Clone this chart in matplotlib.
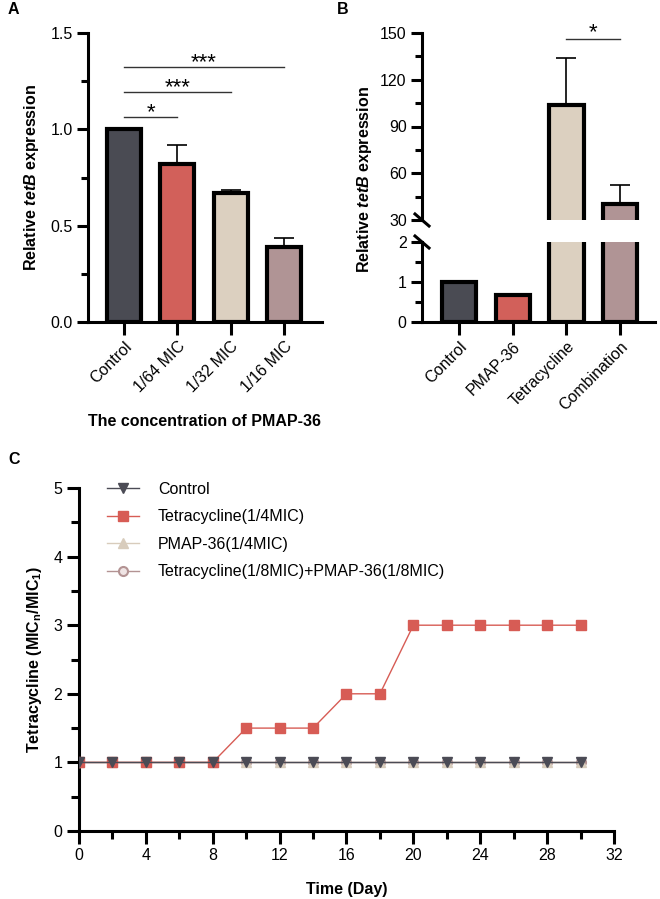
import matplotlib
matplotlib.use("Agg")
import matplotlib.pyplot as plt
import numpy as np
from matplotlib.ticker import MultipleLocator

plt.rcParams["font.family"] = ["Liberation Sans", "DejaVu Sans"]
plt.rcParams["font.size"] = 11.5
plt.rcParams["mathtext.fontset"] = "custom"
plt.rcParams["mathtext.it"] = "Liberation Sans:italic:bold"
plt.rcParams["mathtext.rm"] = "Liberation Sans:bold"
plt.rcParams["mathtext.bf"] = "Liberation Sans:bold"

# ── Panel A data ─────────────────────────────────────────────────────────────
a_groups = ["Control", "1/64 MIC", "1/32 MIC", "1/16 MIC"]
a_means = [1.0, 0.82, 0.67, 0.39]
a_err = [0.0, 0.10, 0.015, 0.045]
a_sig = [(0, 1, 1.065, "*"), (0, 2, 1.195, "***"), (0, 3, 1.325, "***")]

# ── Panel B data ─────────────────────────────────────────────────────────────
b_groups = ["Control", "PMAP-36", "Tetracycline", "Combination"]
b_means = [1.0, 0.67, 104.0, 40.0]
b_err = [0.0, 0.02, 30.0, 12.5]
b_sig = [(2, 3, 146, "*")]

bar_colors = ["#4a4b53", "#d2605a", "#dcd0c0", "#b09495"]

# ── Panel C data ─────────────────────────────────────────────────────────────
days = [0, 2, 4, 6, 8, 10, 12, 14, 16, 18, 20, 22, 24, 26, 28, 30]
c_control = [1] * 16
c_tet = [1, 1, 1, 1, 1, 1.5, 1.5, 1.5, 2, 2, 3, 3, 3, 3, 3, 3]
c_pmap = [1] * 16
c_combo = [1] * 16

W, H = 660, 899
fig = plt.figure(figsize=(W / 100, H / 100), dpi=100)


def px_axes(x0, y0, x1, y1):
    return fig.add_axes([x0 / W, 1 - y1 / H, (x1 - x0) / W, (y1 - y0) / H])


def style(ax):
    for s in ("top", "right"):
        ax.spines[s].set_visible(False)
    for s in ("left", "bottom"):
        ax.spines[s].set_linewidth(2.2)
    ax.tick_params(which="major", length=8, width=2.2, pad=3, labelsize=11.5)
    ax.tick_params(which="minor", length=5, width=2.2)


def draw_bars(ax, means, errs):
    x = np.arange(len(means))
    ax.bar(x, means, width=0.64, color=bar_colors, edgecolor="black",
           linewidth=3, zorder=2)
    for xi, m, e in zip(x, means, errs):
        if e > 0:
            ax.errorbar(xi, m, yerr=[[0], [e]], color="black", lw=1.2,
                        capsize=7, capthick=1.2, zorder=1)


# ── Panel A ──────────────────────────────────────────────────────────────────
axA = px_axes(88, 33, 322, 322)
style(axA)
draw_bars(axA, a_means, a_err)
axA.set_xlim(-0.675, 3.71)
axA.set_ylim(0, 1.5)
axA.yaxis.set_major_locator(MultipleLocator(0.5))
axA.yaxis.set_minor_locator(MultipleLocator(0.25))
axA.yaxis.set_major_formatter(matplotlib.ticker.FormatStrFormatter("%.1f"))
axA.set_xticks(range(4))
axA.set_xticklabels(a_groups, rotation=45, ha="right", rotation_mode="anchor")
axA.tick_params(axis="x", length=9)
for i, j, y, s in a_sig:
    axA.plot([i, j], [y, y], color="#333333", lw=1)
    axA.text((i + j) / 2, y - 0.035, s, ha="center", va="bottom", fontsize=16)
axA.set_ylabel(r"Relative $\mathit{tetB}$ expression", fontweight="bold")
axA.yaxis.set_label_coords(-0.2, 0.5)
axA.set_xlabel("The concentration of PMAP-36", fontweight="bold")
axA.xaxis.set_label_coords(0.5, -0.32)

# ── Panel B (broken axis) ────────────────────────────────────────────────────
axBt = px_axes(422, 33, 655, 220)
axBb = px_axes(422, 242, 655, 322)
for ax in (axBt, axBb):
    style(ax)
    draw_bars(ax, b_means, b_err)
    ax.set_xlim(-0.69, 3.65)
axBt.set_ylim(30, 150)
axBt.yaxis.set_major_locator(MultipleLocator(30))
axBt.yaxis.set_minor_locator(MultipleLocator(15))
axBt.spines["bottom"].set_visible(False)
axBt.set_xticks([])
axBb.set_ylim(0, 2)
axBb.yaxis.set_major_locator(MultipleLocator(1))
axBb.yaxis.set_minor_locator(MultipleLocator(0.5))
axBb.set_xticks(range(4))
axBb.set_xticklabels(b_groups, rotation=45, ha="right", rotation_mode="anchor")
axBb.tick_params(axis="x", length=9)
for i, j, y, s in b_sig:
    axBt.plot([i, j], [y, y], color="#333333", lw=1)
    axBt.text((i + j) / 2, y - 2.5, s, ha="center", va="bottom", fontsize=16)
# break slashes
for ax, yc in ((axBt, 0.0), (axBb, 1.0)):
    h = ax.get_position().height * H
    w = ax.get_position().width * W
    dx, dy = 7 / w, 6 / h
    ax.plot([-dx, dx], [yc + dy, yc - dy], transform=ax.transAxes,
            color="black", lw=2.2, clip_on=False)
fig.text(365 / W, 1 - 180 / H, r"Relative $\mathit{tetB}$ expression",
         rotation=90, ha="center", va="center", fontweight="bold", fontsize=11.5)

# ── Panel C ──────────────────────────────────────────────────────────────────
axC = px_axes(79, 488, 614, 831)
style(axC)
axC.tick_params(which="major", length=9)
axC.tick_params(which="minor", length=5.5)
axC.plot(days, c_combo, color="#b39393", lw=1, marker="o", ms=6.5,
         mfc="#efe4e4", mec="#b39393", mew=1.5,
         label="Tetracycline(1/8MIC)+PMAP-36(1/8MIC)", zorder=2)
axC.plot(days, c_pmap, color="#d8ccbc", lw=1, marker="^", ms=7,
         label="PMAP-36(1/4MIC)", zorder=3)
axC.plot(days, c_tet, color="#d75c55", lw=1, marker="s", ms=7,
         label="Tetracycline(1/4MIC)", zorder=4)
axC.plot(days, c_control, color="#4b4b55", lw=1, marker="v", ms=7,
         label="Control", zorder=5)
axC.set_xlim(0, 32)
axC.set_ylim(0, 5)
axC.xaxis.set_major_locator(MultipleLocator(4))
axC.xaxis.set_minor_locator(MultipleLocator(2))
axC.yaxis.set_major_locator(MultipleLocator(1))
axC.yaxis.set_minor_locator(MultipleLocator(0.5))
handles, labels = axC.get_legend_handles_labels()
order = [3, 2, 1, 0]
axC.legend([handles[k] for k in order], [labels[k] for k in order],
           loc="upper left", bbox_to_anchor=(0.052, 1.018), frameon=False,
           borderpad=0, borderaxespad=0, handlelength=2.0,
           handletextpad=1.2, labelspacing=0.78, fontsize=11.5)
axC.set_ylabel(r"Tetracycline (MIC$_\mathrm{n}$/MIC$_\mathrm{1}$)",
               fontweight="bold")
axC.yaxis.set_label_coords(-0.066, 0.5)
axC.set_xlabel("Time (Day)", fontweight="bold")
axC.xaxis.set_label_coords(0.5, -0.148)

# ── Panel letters ────────────────────────────────────────────────────────────
for lbl, x, y in (("A", 8, 10), ("B", 337, 10), ("C", 8, 460)):
    fig.text(x / W, 1 - y / H, lbl, fontweight="bold", fontsize=11.5,
             ha="left", va="center")

fig.savefig("out.png", dpi=100)
